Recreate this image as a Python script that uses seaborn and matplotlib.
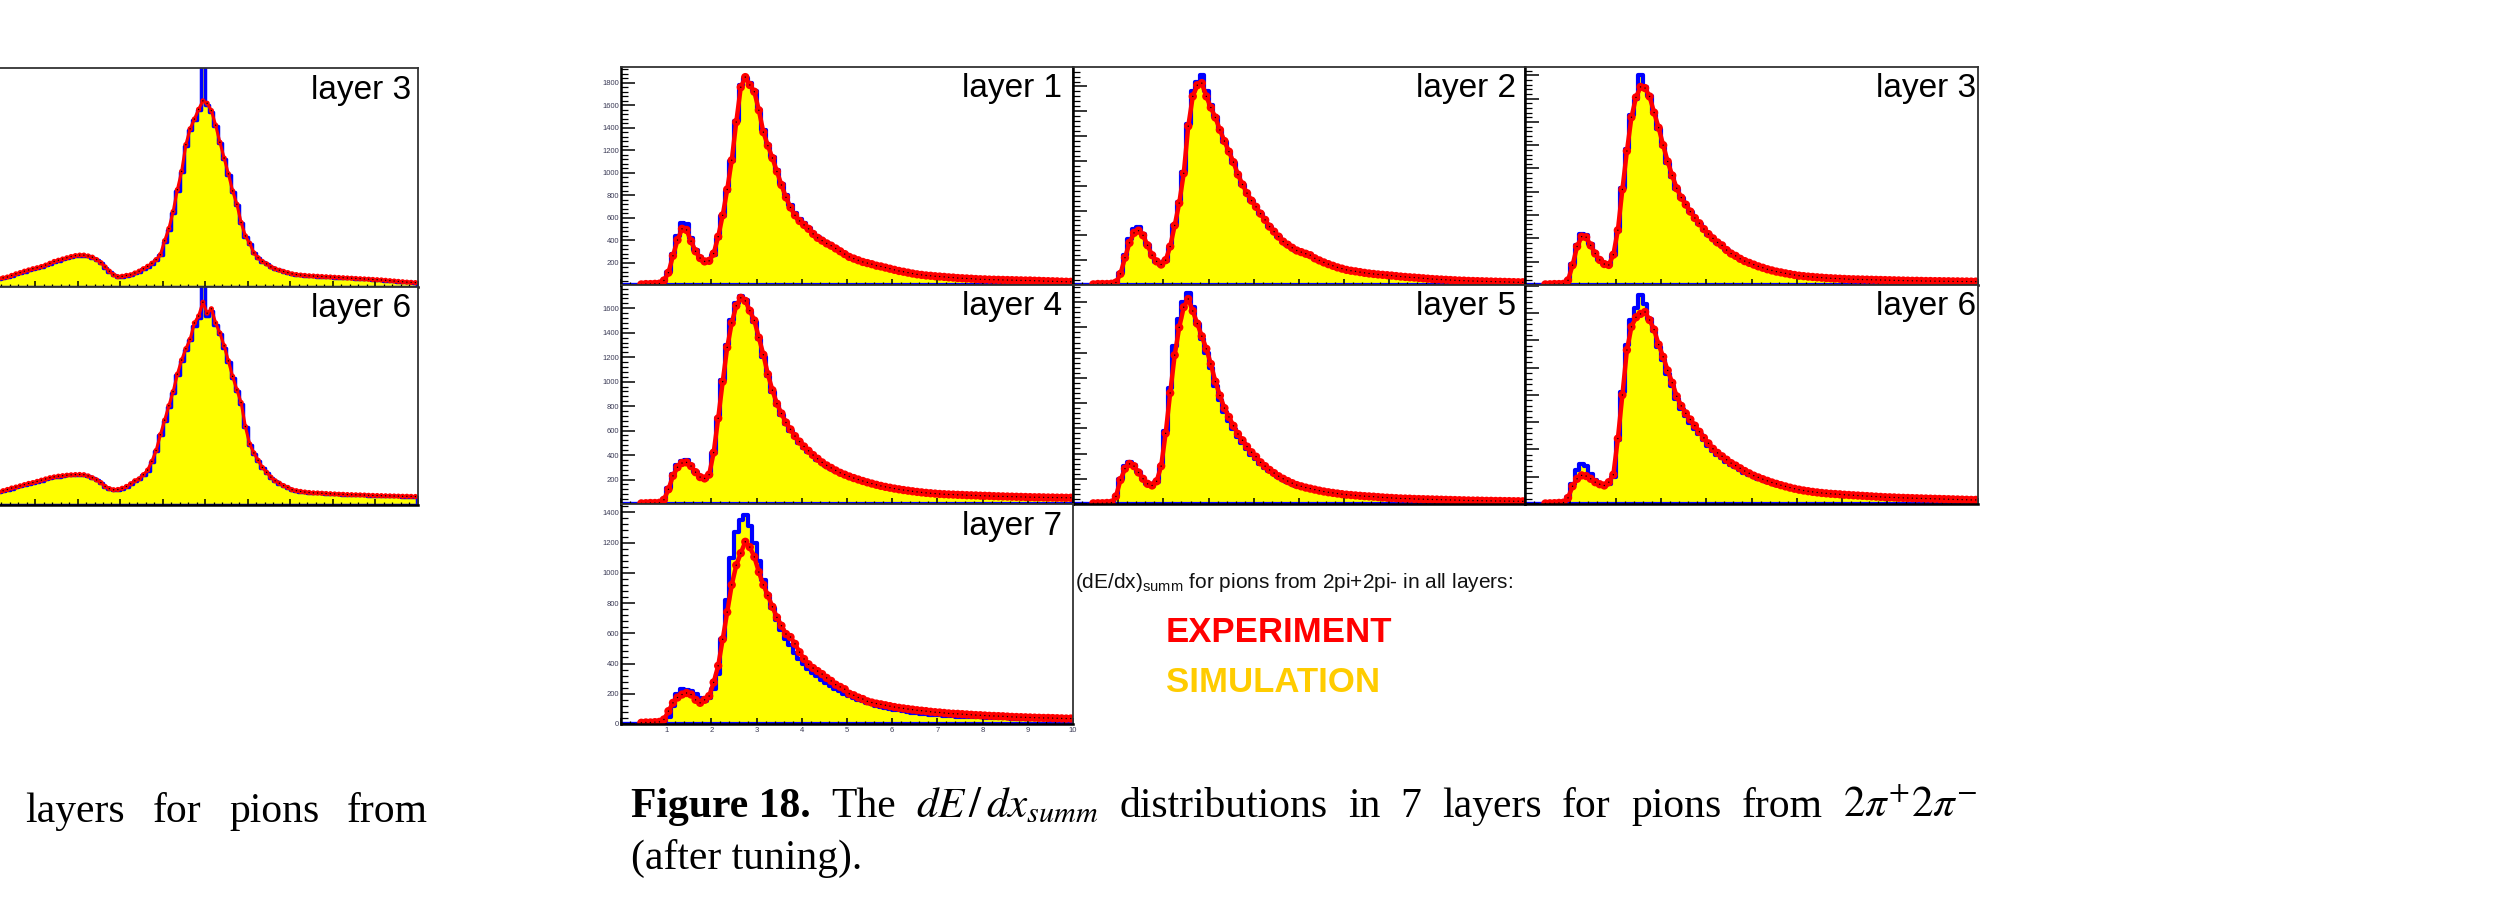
import numpy as np
import pandas as pd
import matplotlib
matplotlib.use("Agg")
import matplotlib.pyplot as plt
import seaborn as sns
from matplotlib.ticker import MultipleLocator, FixedLocator, NullFormatter, FuncFormatter

sns.set_theme(style="white")
plt.rcParams['font.family'] = ['Liberation Sans', 'DejaVu Sans']
plt.rcParams['mathtext.fontset'] = 'custom'
plt.rcParams['mathtext.rm'] = 'Liberation Sans'
plt.rcParams['mathtext.it'] = 'Liberation Sans:italic'

# ---------------- data (bin contents, 100 bins of width 0.1 on 0..10) ----------------
layer_names = ["layer 1", "layer 2", "layer 3", "layer 4", "layer 5", "layer 6", "layer 7"]
y_max = [1940, 1757, 1871, 1790, 1736, 1607, 1455]

exp_l1 = [0,0,0,0,5,8,8,10,12,40, 110,260,400,500,490,390,300,240,210,215,
          280,430,620,850,1110,1450,1760,1850,1780,1720, 1555,1360,1240,1130,1010,890,780,690,620,570,
          535,500,455,420,395,370,350,325,300,275, 250,235,220,205,195,185,172,165,155,145,
          135,125,118,110,102,95,90,85,82,78, 75,72,68,66,62,60,58,56,53,51,
          50,48,47,46,45,44,43,42,41,40, 40,38,37,35,34,33,32,30,29,28]
sim_l1 = [0,0,0,0,0,0,0,0,5,35, 120,280,440,550,540,420,310,245,210,210,
          270,420,610,840,1100,1460,1780,1840,1800,1730, 1560,1380,1250,1140,1020,900,800,710,640,590,
          550,510,465,430,400,375,350,325,300,275, 250,233,218,203,192,182,170,162,152,142,
          132,123,116,108,100,94,88,84,80,76, 73,70,67,64,61,59,57,55,52,50,
          49,47,46,45,44,43,42,41,40,39, 38,37,36,35,34,33,32,31,30,29]

exp_l2 = [0,0,0,0,5,8,8,8,10,20, 90,220,340,420,438,400,320,240,190,165,
          200,310,480,660,900,1280,1520,1610,1627,1520, 1430,1350,1250,1160,1075,990,890,810,740,680,
          630,575,525,470,430,390,350,325,300,278, 265,252,240,215,198,182,168,155,142,132,
          122,115,110,104,98,93,89,85,82,79, 76,72,68,65,62,60,57,54,51,48,
          46,44,42,40,38,36,35,33,32,31, 30,29,28,27,26,25,24,23,22,22]
sim_l2 = [0,0,0,0,0,0,0,0,5,20, 100,240,370,450,465,415,325,240,188,162,
          195,305,480,665,910,1300,1560,1640,1690,1560, 1450,1355,1250,1155,1070,985,885,805,735,675,
          625,570,520,468,428,388,350,323,298,276, 262,250,236,213,196,180,166,153,141,131,
          121,114,108,102,97,92,88,84,80,77, 74,70,66,63,60,58,55,52,49,47,
          45,43,41,39,37,35,34,32,31,30, 29,28,27,26,25,24,23,22,21,21]

exp_l3 = [0,0,0,0,5,6,8,8,10,40, 170,330,415,410,340,270,215,180,172,260,
          470,820,1150,1440,1610,1700,1690,1618,1480,1350, 1200,1060,940,830,750,690,630,575,530,480,
          437,400,365,340,300,270,250,225,205,190, 175,160,148,135,125,115,108,100,93,86,
          80,76,72,69,66,63,60,58,56,54, 52,50,49,48,47,46,45,44,43,42,
          41,40,39,38,37,36,36,35,34,34, 33,33,32,32,31,31,30,30,29,29]
sim_l3 = [0,0,0,0,0,0,0,0,5,45, 180,345,437,430,350,272,213,178,170,255,
          465,830,1170,1460,1600,1805,1700,1620,1475,1340, 1190,1050,930,822,745,685,625,570,525,476,
          433,396,362,336,297,268,247,222,203,188, 173,158,146,134,124,114,107,99,92,85,
          79,75,71,68,65,62,59,57,55,53, 51,49,48,47,46,45,44,43,42,41,
          40,39,38,37,36,35,35,34,33,33, 32,32,31,31,30,30,29,29,28,28]

exp_l4 = [0,0,0,0,5,6,8,8,10,35, 120,230,300,335,340,310,260,220,209,240,
          420,700,1000,1280,1480,1620,1685,1660,1580,1500, 1360,1220,1060,930,820,740,666,610,555,510,
          470,435,400,370,340,315,295,274,255,240, 225,212,200,188,177,167,157,148,140,133,
          126,120,114,109,104,99,95,91,88,85, 82,80,78,77,75,74,72,71,70,68,
          67,66,64,63,62,61,60,59,58,57, 56,55,55,54,53,53,52,52,51,51]
sim_l4 = [0,0,0,0,0,0,0,0,5,40, 130,245,320,355,360,320,262,218,205,235,
          415,700,1010,1300,1500,1640,1700,1665,1575,1490, 1345,1205,1045,918,808,728,655,600,545,500,
          460,425,392,362,333,308,288,268,250,235, 220,207,195,183,172,162,152,144,136,129,
          122,116,110,105,100,96,92,88,85,82, 79,77,75,74,72,71,69,68,67,65,
          64,63,62,61,60,59,58,57,56,55, 54,53,53,52,51,51,50,50,49,49]

exp_l5 = [0,0,0,0,5,6,6,8,10,60, 190,280,318,300,250,200,160,147,180,300,
          560,880,1180,1400,1560,1625,1530,1430,1330,1230, 1110,970,860,760,690,620,555,505,455,410,
          375,330,300,270,245,220,200,182,165,150, 140,130,122,114,106,99,93,88,83,78,
          74,71,68,65,62,60,58,55,52,50, 48,46,44,43,42,40,39,38,37,36,
          35,34,33,32,31,30,29,28,27,27, 26,25,25,24,24,23,23,22,22,21]
sim_l5 = [0,0,0,0,0,0,0,0,5,65, 200,300,330,310,252,198,158,145,175,300,
          580,920,1250,1470,1600,1669,1560,1430,1310,1200, 1075,935,825,728,660,592,530,482,434,392,
          358,316,287,259,235,211,192,175,159,145, 135,126,118,110,102,96,90,85,80,75,
          71,68,65,62,60,58,56,53,50,48, 46,44,43,42,40,39,38,37,36,35,
          34,33,32,31,30,29,28,27,26,26, 25,24,24,23,23,22,22,21,21,20]

exp_l6 = [0,0,0,0,4,5,6,8,10,45, 130,185,210,205,185,160,145,136,160,215,
          480,800,1130,1300,1370,1395,1409,1350,1280,1170, 1080,980,890,790,720,665,620,575,530,485,
          445,405,375,350,325,300,282,262,242,225, 208,195,182,170,158,148,138,129,120,112,
          105,99,94,89,85,81,78,75,73,71, 68,66,64,62,60,58,56,54,52,50,
          49,48,46,45,44,43,42,41,40,39, 38,37,36,35,34,33,32,31,30,30]
sim_l6 = [0,0,0,0,0,0,0,0,5,50, 150,250,295,280,220,175,150,138,150,200,
          470,820,1170,1350,1440,1533,1470,1360,1270,1150, 1055,955,865,768,698,643,598,553,510,466,
          427,389,359,335,311,287,269,250,231,215, 199,186,174,162,151,141,132,123,115,107,
          100,95,90,85,81,78,75,72,70,68, 65,63,61,59,57,55,53,51,50,48,
          47,46,44,43,42,41,40,39,38,37, 36,35,34,33,32,31,30,30,29,29]

exp_l7 = [0,0,0,0,8,10,10,12,14,30, 85,140,175,195,205,195,160,140,160,185,
          275,385,560,740,920,1050,1130,1205,1170,1105, 1005,920,850,775,705,650,595,575,530,475,
          430,395,370,350,330,305,285,260,245,230, 200,190,175,165,150,142,135,130,124,118,
          112,107,103,99,95,91,88,85,81,78, 76,73,70,68,67,65,63,61,59,58,
          56,54,53,52,51,49,47,46,45,44, 43,42,41,40,40,39,38,37,36,36]
sim_l7 = [0,0,0,0,0,5,8,8,8,5, 45,120,200,230,225,215,200,170,150,170,
          230,330,560,820,1100,1270,1350,1385,1310,1200, 1080,950,850,770,690,620,560,520,470,430,
          395,365,340,315,290,270,250,232,215,200, 185,172,160,150,140,130,122,115,108,100,
          95,90,85,80,76,72,68,65,62,60, 57,55,53,51,49,47,46,45,44,43,
          42,41,40,39,38,37,36,35,34,33, 32,31,31,30,30,29,29,28,28,28]

# partial figure on the left edge of the page (layer 3 / layer 6 of a previous figure)
left_names = ["layer 3", "layer 6"]
left_ymax = 1800
exp_left3 = [63,70,75,82,95,108,118,130,140,150, 158,168,180,195,210,220,230,240,250,258,
             262,262,255,245,225,200,165,130,100,85, 88,95,100,115,130,150,170,195,225,265,
             380,480,620,800,950,1170,1300,1380,1460,1530, 1510,1450,1330,1190,1060,930,790,680,530,420,
             360,280,240,210,190,165,150,138,128,118, 108,102,98,95,92,90,88,86,84,82,
             80,78,76,74,72,70,68,66,64,62, 60,58,55,52,49,46,43,40,38,36]
sim_left3 = [60,66,72,80,92,104,115,126,137,147, 155,165,177,192,206,217,227,237,246,254,
             258,258,252,240,220,196,160,126,97,82, 85,92,98,112,127,147,168,192,222,262,
             370,470,610,790,945,1160,1290,1375,1455,2100, 1500,1440,1320,1180,1050,920,780,670,525,415,
             355,278,238,208,188,163,148,136,126,116, 106,100,96,93,90,88,86,84,82,80,
             78,76,74,72,70,68,66,64,62,60, 58,56,53,50,47,44,42,39,37,35]
exp_left6 = [100,108,118,128,140,148,158,168,178,185, 195,205,215,225,232,238,242,246,249,251,
             252,250,240,225,207,185,153,135,126,128, 138,153,175,200,216,250,288,360,450,580,
             700,820,936,1080,1197,1290,1368,1503,1560,1674, 1584,1620,1503,1420,1314,1190,1062,950,846,648,
             504,430,369,310,270,230,200,180,160,145, 126,118,112,107,103,100,99,97,95,93,
             91,89,88,86,85,84,83,82,80,79, 78,77,76,75,74,73,72,72,71,70]
sim_left6 = [95,104,114,124,136,145,155,165,175,182, 192,202,212,222,230,235,240,244,247,249,
             250,248,238,222,204,182,150,132,122,125, 135,150,172,196,212,246,284,355,445,575,
             690,810,925,1070,1185,1280,1360,1480,1540,2100, 1560,1600,1490,1410,1300,1180,1050,940,835,640,
             498,425,365,306,266,226,197,177,158,143, 124,116,110,105,101,98,97,95,93,91,
             89,87,86,84,83,82,81,80,78,77, 76,75,74,73,72,71,70,70,69,68]

x_tick_labels = ["1", "2", "3", "4", "5", "6", "7", "8", "9", "10"]

# caption words of the main figure (justified line between two margins)
caption_words = ["Figure 18.", "The", r"$dE\,/\,dx_{summ}$", "distributions",
                 "in", "7", "layers", "for", "pions", "from", r"$2\pi^{+}2\pi^{-}$"]
left_caption_words = ["layers", "for", "pions", "from"]

exp_all = [exp_l1, exp_l2, exp_l3, exp_l4, exp_l5, exp_l6, exp_l7]
sim_all = [sim_l1, sim_l2, sim_l3, sim_l4, sim_l5, sim_l6, sim_l7]

# ---------------- figure ----------------
W, H = 2505, 898
fig = plt.figure(figsize=(W / 100, H / 100), dpi=100)
fig.patch.set_facecolor("white")

n_bins = 100
centers = (np.arange(n_bins) + 0.5) * (10.0 / n_bins)


def px_axes(l, t, r, b):
    return fig.add_axes([l / W, 1 - b / H, (r - l) / W, (b - t) / H])


def draw_panel(ax, exp, sim, ymax, ms=36, lw=3.0, elw=3.2):
    df = pd.DataFrame({"x": centers, "exp": exp, "sim": sim})
    sns.histplot(data=df, x="x", weights="sim", bins=n_bins, binrange=(0, 10), element="step",
                 fill=True, facecolor="#ffff00", edgecolor="#0000ff", linewidth=lw, ax=ax, zorder=1)
    dfe = df[df["exp"] > 0]
    sns.lineplot(data=dfe, x="x", y="exp", color="#ff0000", linewidth=elw, ax=ax, zorder=3,
                 legend=False, estimator=None)
    sns.scatterplot(data=dfe, x="x", y="exp", color="#ff0000", s=ms, edgecolor="none",
                    ax=ax, zorder=3, legend=False)
    sns.scatterplot(data=dfe, x="x", y="exp", color="#000000", s=1.0, edgecolor="none",
                    ax=ax, zorder=4, legend=False)
    ax.set_xlim(0, 10)
    ax.set_ylim(0, ymax)
    ax.set_xlabel("")
    ax.set_ylabel("")
    ax.set_facecolor("white")
    ax.set_axisbelow(False)
    for s in ["left", "bottom"]:
        ax.spines[s].set_color("#000000")
        ax.spines[s].set_linewidth(1.8)
        ax.spines[s].set_zorder(5)
    for s in ["top", "right"]:
        ax.spines[s].set_color("#333333")
        ax.spines[s].set_linewidth(1.3)
        ax.spines[s].set_zorder(5)
    ax.xaxis.set_major_locator(MultipleLocator(1))
    ax.xaxis.set_minor_locator(MultipleLocator(0.2))
    ax.yaxis.set_major_locator(MultipleLocator(200))
    ax.yaxis.set_minor_locator(MultipleLocator(40))
    ax.tick_params(axis="x", which="major", direction="in", length=4.5, width=1.1,
                   bottom=True, top=False, color="#000000", labelsize=5.5, pad=2,
                   labelcolor="#3a3a55")
    ax.tick_params(axis="x", which="minor", direction="in", length=2.2, width=0.9,
                   bottom=True, top=False, color="#000000")
    ax.tick_params(axis="y", which="major", direction="in", length=10, width=1.1,
                   left=True, right=False, color="#000000", labelsize=5.5, pad=1.5,
                   labelcolor="#3a3a55")
    ax.tick_params(axis="y", which="minor", direction="in", length=5, width=0.9,
                   left=True, right=False, color="#000000")


# grid of the main figure: column lefts / rights and row tops / bottoms (pixels)
col_l = [621, 1073, 1525]
col_r = [1073, 1525, 1978]
row_t = [67, 285, 504]
row_b = [285, 504, 724]
label_right = [1062, 1516, 1976]

for i in range(7):
    r, c = divmod(i, 3)
    ax = px_axes(col_l[c], row_t[r], col_r[c], row_b[r])
    draw_panel(ax, exp_all[i], sim_all[i], y_max[i])
    if c == 0:
        if i == 6:
            ax.yaxis.set_major_formatter(FuncFormatter(lambda v, p: f"{int(v)}"))
        else:
            ax.yaxis.set_major_formatter(FuncFormatter(lambda v, p: "" if v == 0 else f"{int(v)}"))
    else:
        ax.yaxis.set_major_formatter(NullFormatter())
    if i == 6:
        ax.xaxis.set_major_locator(FixedLocator(list(range(0, 11))))
        ax.set_xticklabels([""] + x_tick_labels)
    else:
        ax.xaxis.set_major_formatter(NullFormatter())
    fig.text(label_right[c] / W, 1 - (row_t[r] + 22) / H, layer_names[i], ha="right",
             va="center", fontsize=24, color="#000000", family="Liberation Sans")

# left partial figure (cut by the page edge)
left_rows = [(68, 287), (287, 505)]
left_exp = [exp_left3, exp_left6]
left_sim = [sim_left3, sim_left6]
for j in range(2):
    t, b = left_rows[j]
    ax = px_axes(-7.5, t, 417.5, b)
    draw_panel(ax, left_exp[j], left_sim[j], left_ymax, ms=14, lw=2.5, elw=2.2)
    ax.xaxis.set_major_formatter(NullFormatter())
    ax.yaxis.set_major_formatter(NullFormatter())
    ax.tick_params(axis="y", which="major", length=4)
    ax.tick_params(axis="y", which="minor", length=0)
    fig.text(411 / W, 1 - (t + 22) / H, left_names[j], ha="right", va="center",
             fontsize=24, color="#000000", family="Liberation Sans")

# legend text in the empty pad
fig.text(1075 / W, 1 - 583 / H, r"(dE/dx)$_{\mathrm{summ}}$ for pions from 2pi+2pi- in all layers:",
         ha="left", va="center", fontsize=15, color="#111111", family="Liberation Sans")
fig.text(1166 / W, 1 - 632 / H, "EXPERIMENT", ha="left", va="center", fontsize=25,
         fontweight="bold", color="#ff0000", family="Liberation Sans")
fig.text(1166 / W, 1 - 682 / H, "SIMULATION", ha="left", va="center", fontsize=25,
         fontweight="bold", color="#ffcc00", family="Liberation Sans")

# captions (justified: words spread evenly between the margins)
renderer = fig.canvas.get_renderer()


def justified_line(words, x_left, x_right, y_base, fs, first_bold=False):
    texts = []
    for k, wd in enumerate(words):
        is_math = wd.startswith("$")
        t = fig.text(0, 1 - y_base / H, wd, ha="left", va="baseline",
                     fontsize=fs + (1 if is_math else 0),
                     fontweight="bold" if (first_bold and k == 0) else "normal",
                     color="#000000", family="Liberation Serif", math_fontfamily="stix")
        texts.append(t)
    widths = [t.get_window_extent(renderer).width for t in texts]
    gap = (x_right - x_left - sum(widths)) / (len(texts) - 1)
    xx = x_left
    for t, wdt in zip(texts, widths):
        t.set_x(xx / W)
        xx += wdt + gap


justified_line(caption_words, 631, 1978, 817, 30, first_bold=True)
fig.text(631 / W, 1 - 869 / H, "(after tuning).", ha="left", va="baseline", fontsize=30,
         color="#000000", family="Liberation Serif")
justified_line(left_caption_words, 25, 428, 822, 30)

fig.savefig("out.png", dpi=100, facecolor="white")
